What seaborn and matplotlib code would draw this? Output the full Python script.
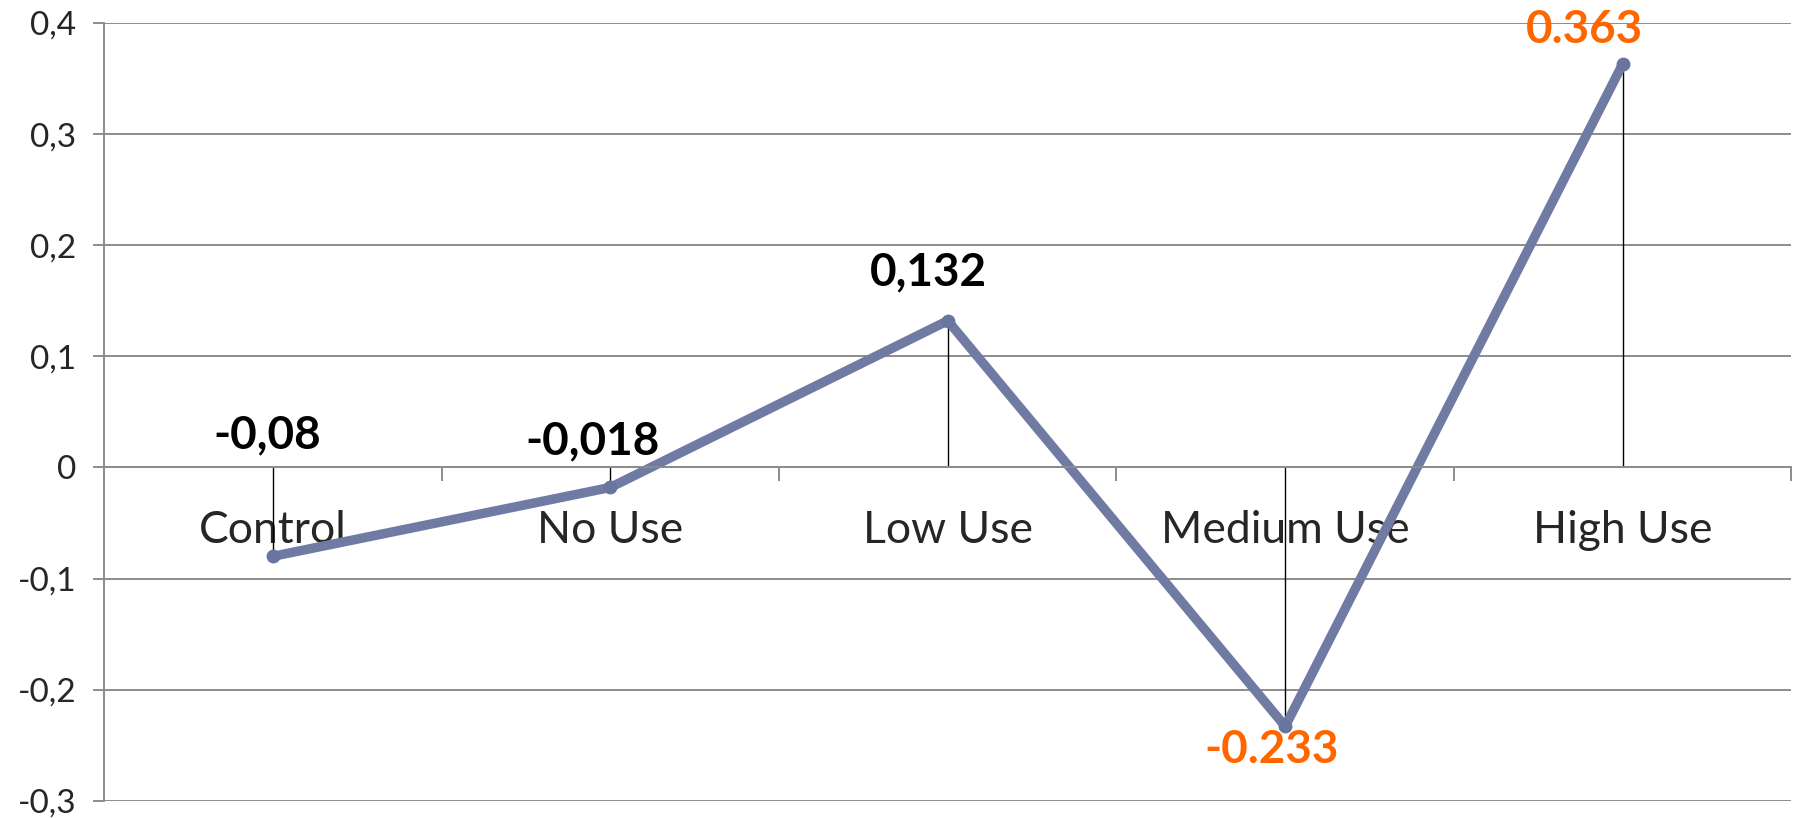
import matplotlib
matplotlib.use("Agg")
import matplotlib.pyplot as plt
import matplotlib.ticker as mticker
import seaborn as sns
import pandas as pd

categories = ["Control", "No Use", "Low Use", "Medium Use", "High Use"]
values = [-0.08, -0.018, 0.132, -0.233, 0.363]
value_labels = ["-0,08", "-0,018", "0,132", "-0.233", "0.363"]
label_colors = ["black", "black", "black", "#FF6600", "#FF6600"]
y_ticks = [-0.3, -0.2, -0.1, 0.0, 0.1, 0.2, 0.3, 0.4]

sns.set_theme(style="white")
plt.rcParams["font.family"] = ["Lato", "DejaVu Sans"]

fig = plt.figure(figsize=(17.95, 8.18), dpi=100)
ax = fig.add_axes([0.058, 0.021, 0.94, 0.951])

df = pd.DataFrame({"cat": categories, "val": values})
line_color = "#6F7BA3"
sns.lineplot(data=df, x="cat", y="val", sort=False, ax=ax, color=line_color,
             linewidth=6.8, marker="o", markersize=10, markeredgewidth=0,
             markerfacecolor="#6A74A0",
             solid_capstyle="round", solid_joinstyle="round")

xpos = list(range(len(categories)))
ax.vlines(xpos, 0, values, color="black", linewidth=1.0, zorder=1)

ax.set_xlim(-0.5, len(categories) - 0.5)
ax.set_ylim(-0.3, 0.4)
ax.set_yticks(y_ticks)
ax.yaxis.set_major_formatter(mticker.FuncFormatter(
    lambda v, p: "0" if abs(v) < 1e-9 else f"{v:.1f}".replace(".", ",")))
ax.grid(axis="y", color="#8C8C8C", linewidth=1.4)
ax.set_axisbelow(True)
ax.set_xlabel("")
ax.set_ylabel("")

for s in ["top", "right"]:
    ax.spines[s].set_visible(False)
ax.spines["left"].set_color("#8C8C8C")
ax.spines["left"].set_linewidth(1.4)
ax.spines["bottom"].set_position(("data", 0))
ax.spines["bottom"].set_color("#8C8C8C")
ax.spines["bottom"].set_linewidth(1.4)

ax.tick_params(axis="y", which="major", left=True, length=8, width=1.4,
               color="#8C8C8C", labelsize=24, pad=12, direction="out")
ax.set_xticks(xpos)
ax.set_xticklabels(categories)
ax.set_xticks([i - 0.5 for i in range(len(categories) + 1)], minor=True)
ax.tick_params(axis="x", which="major", length=0, labelsize=32, pad=31)
ax.tick_params(axis="x", which="minor", bottom=True, length=10, width=1.4,
               color="#8C8C8C", direction="out")

offsets_px = [(-6, 121), (-18, 46), (-19, 48), (-14, -24), (-38, 34)]
for i, (v, lab, col) in enumerate(zip(values, value_labels, label_colors)):
    dx, dy = offsets_px[i]
    ax.annotate(lab, xy=(i, v), xytext=(dx * 0.72, dy * 0.72),
                textcoords="offset points", ha="center", va="center",
                fontsize=33, fontweight="bold", color=col)

fig.savefig("out.png", dpi=100)
